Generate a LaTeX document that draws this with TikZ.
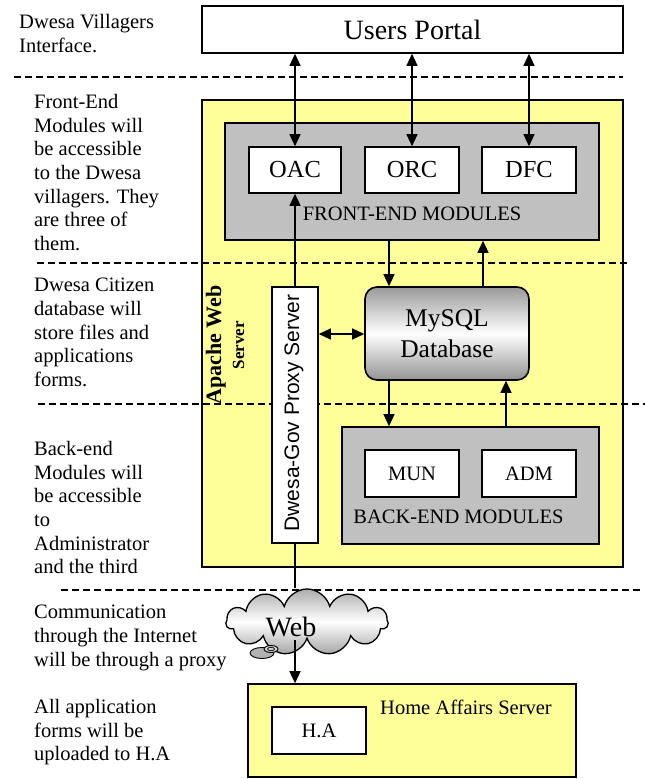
\documentclass[tikz,border=0pt]{standalone}
\usepackage{fontspec}
\setmainfont{Liberation Serif}
\newfontfamily\arialf{Liberation Sans}
\usetikzlibrary{arrows.meta,shapes.symbols}

\definecolor{srvyellow}{HTML}{FFFF99}
\definecolor{modgray}{HTML}{C0C0C0}

\begin{document}
\begin{tikzpicture}[x=1pt,y=-1pt,
  box/.style={draw=black, line width=1.6pt, inner sep=0pt},
  whitebox/.style={box, fill=white},
  sepline/.style={draw=black, line width=1.3pt, dash pattern=on 6.5pt off 4.5pt},
  conn/.style={line width=1.3pt, -{Triangle[length=12pt,width=11pt]}},
  dconn/.style={line width=1.3pt, {Triangle[length=12pt,width=11pt]}-{Triangle[length=12pt,width=11pt]}},
  plainline/.style={line width=1.3pt},
  note/.style={anchor=north west, align=left, inner sep=0pt, font=\fontsize{20.5}{23.7}\selectfont},
  modfont/.style={font=\fontsize{20.5}{24}\selectfont},
]
\useasboundingbox (0,0) rectangle (645,779);

% Apache web server (yellow)
\node[box, fill=srvyellow, minimum width=421pt, minimum height=467pt] (apache) at (412.5,333.5) {};

% dashed separators
\draw[sepline] (14,77) -- (623,77);
\draw[sepline] (37,263) -- (630,263);
\draw[sepline] (38,404) -- (645,404);
\draw[sepline] (61,590) -- (640,590);

% users portal
\node[whitebox, minimum width=421pt, minimum height=47pt, font=\fontsize{28}{30}\selectfont] (portal) at (412.5,29.5) {Users Portal};

% front-end modules
\node[box, fill=modgray, minimum width=374pt, minimum height=117pt] (front) at (412,181.5) {};
\node[whitebox, minimum width=92pt, minimum height=46pt, font=\fontsize{24.5}{26}\selectfont] (oac) at (295,170) {OAC};
\node[whitebox, minimum width=94pt, minimum height=46pt, font=\fontsize{24.5}{26}\selectfont] (orc) at (412,170) {ORC};
\node[whitebox, minimum width=94pt, minimum height=46pt, font=\fontsize{24.5}{26}\selectfont] (dfc) at (529,170) {DFC};
\node[modfont, inner sep=0pt] (frontlbl) at (412,214) {FRONT-END MODULES};

% apache label
\node[rotate=90, align=center, inner sep=0pt, font=\bfseries\fontsize{22}{23}\selectfont] (apachelbl) at (225,345)
  {Apache Web\\{\fontsize{17}{20}\selectfont Server}};

% proxy
\node[whitebox, minimum width=46pt, minimum height=256pt] (proxy) at (295,415) {};
\node[rotate=90, inner sep=0pt, font=\arialf\fontsize{21}{24}\selectfont] (proxylbl) at (294,413) {Dwesa-Gov Proxy Server};

% MySQL database
\node[draw=black, line width=1.6pt, rounded corners=12pt, minimum width=164pt, minimum height=93pt,
  top color=gray!80, bottom color=gray!85, middle color=white, align=center,
  font=\fontsize{25.5}{31}\selectfont] (mysql) at (447,333.5) {MySQL\\Database};

% back-end modules
\node[box, fill=modgray, minimum width=257pt, minimum height=117pt] (back) at (470.5,485.5) {};
\node[whitebox, minimum width=94pt, minimum height=47pt, modfont] (mun) at (412,473.5) {MUN};
\node[whitebox, minimum width=94pt, minimum height=47pt, modfont] (adm) at (529,473.5) {ADM};
\node[modfont, inner sep=0pt] (backlbl) at (458.5,517) {BACK-END MODULES};

% cloud
\node[cloud, cloud puffs=11, aspect=2.4, draw=black, line width=1.3pt, inner sep=0pt,
  minimum width=162pt, minimum height=66pt,
  top color=gray!65, bottom color=gray!70, middle color=white] (web) at (307,622) {};
\node[font=\fontsize{28}{30}\selectfont, inner sep=0pt] (webtxt) at (291,627) {Web};
\draw[fill=gray!60, line width=0.9pt] (262,653) ellipse (12 and 5.5);
\draw[fill=gray!35, line width=0.9pt] (271,649) ellipse (7 and 3.5);
\draw[line width=0.7pt] (271,649) ellipse (3.5 and 1.7);

% home affairs server
\node[box, fill=srvyellow, minimum width=328pt, minimum height=93pt] (haserver) at (412,730.5) {};
\node[whitebox, minimum width=94pt, minimum height=47pt, modfont] (ha) at (319,730.5) {H.A};
\node[modfont, inner sep=0pt] (halbl) at (466,707) {Home Affairs Server};

% left notes
\node[note] (n1) at (19,14.5) {Dwesa Villagers\\Interface.};
\node[note] (n2) at (34,94) {Front-End\\Modules will\\be accessible\\to the Dwesa\\villagers. They\\are three of\\them.};
\node[note] (n3) at (34,278) {Dwesa Citizen\\database will\\store files and\\applications\\forms.};
\node[note] (n4) at (34,441) {Back-end\\Modules will\\be accessible\\to\\Administrator\\and the third};
\node[note] (n5) at (34,605) {Communication\\through the Internet\\will be through a proxy};
\node[note] (n6) at (34,699) {All application\\forms will be\\uploaded to H.A};

% connectors
\coordinate (xa) at (389,0);
\coordinate (xb) at (483,0);
\coordinate (xc) at (506,0);
\coordinate (ym) at (0,334);
\draw[dconn] (portal.south -| oac.north) -- (oac.north);
\draw[dconn] (portal.south -| orc.north) -- (orc.north);
\draw[dconn] (portal.south -| dfc.north) -- (dfc.north);
\draw[conn] (proxy.north) -- (oac.south);
\draw[conn] (front.south -| xa) -- (mysql.north -| xa);
\draw[conn] (mysql.north -| xb) -- (front.south -| xb);
\draw[conn] (mysql.south -| xa) -- (back.north -| xa);
\draw[conn] (back.north -| xc) -- (mysql.south -| xc);
\draw[dconn] (proxy.east |- ym) -- (mysql.west |- ym);
\draw[plainline] (proxy.south) -- (proxy.south |- web.north);
\draw[conn] (web.south -| proxy.south) -- (haserver.north -| proxy.south);
\end{tikzpicture}
\end{document}
